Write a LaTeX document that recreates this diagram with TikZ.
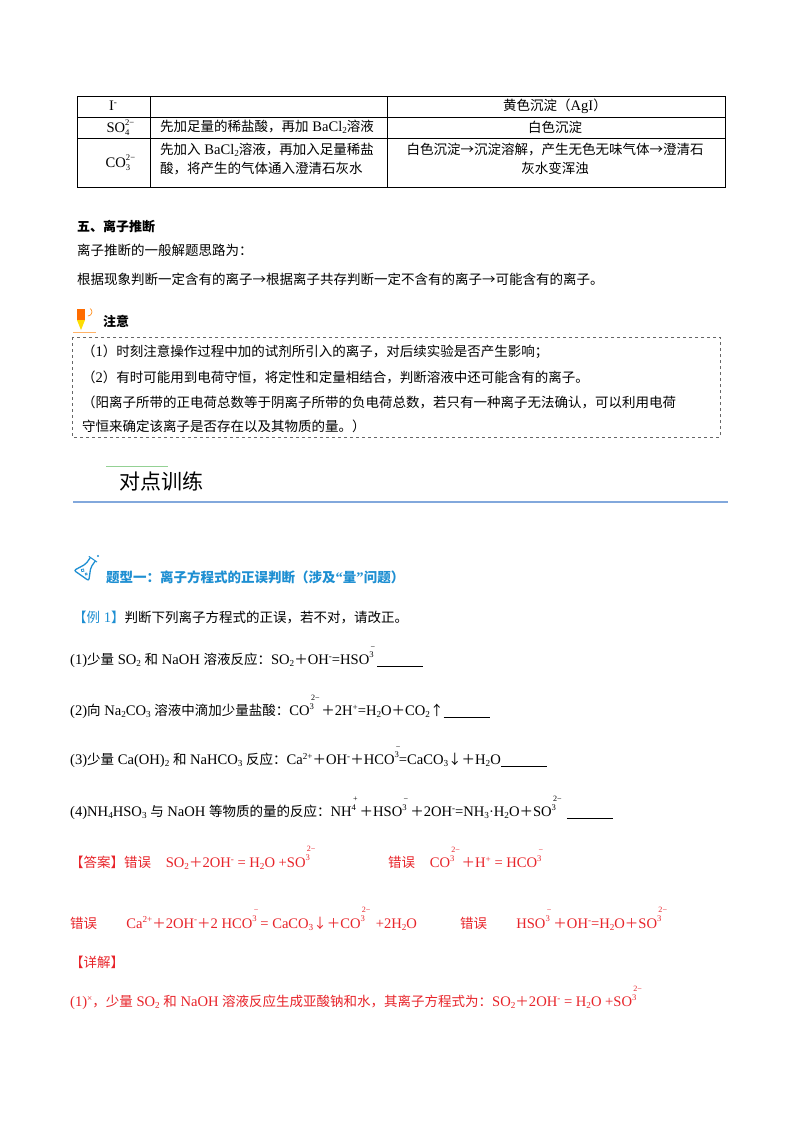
\documentclass[tikz,border=0pt]{standalone}
\usepackage{fontspec}
\setmainfont{Liberation Serif}[Scale=1.08]
\newfontfamily\cjk{Noto Sans CJK SC}
\XeTeXinterchartokenstate=1
\newXeTeXintercharclass\cjkcls
\newcount\cc
\def\setrange#1#2{\cc=#1\relax\loop\XeTeXcharclass\cc=\cjkcls\advance\cc by 1\relax\ifnum\cc<#2\repeat}
\setrange{"4E00}{"9FFF}
\setrange{"3000}{"3040}
\setrange{"FF00}{"FF60}
\setrange{"2190}{"2194}
\XeTeXinterchartoks 0 \cjkcls = {\cjk}
\XeTeXinterchartoks 4095 \cjkcls = {\cjk}
\XeTeXinterchartoks \cjkcls 0 = {\rmfamily}
\XeTeXinterchartoks \cjkcls 4095 = {\rmfamily}
\newcommand{\ionx}[2]{\makebox[0pt][l]{\raisebox{2.3ex}{\fontsize{7.5}{7}\selectfont\,#1}}\raisebox{1.0ex}{\fontsize{8}{8}\selectfont #2}}
\newcommand{\tion}[2]{\makebox[0pt][l]{\raisebox{1.0ex}{\fontsize{8}{8}\selectfont #1}}\raisebox{-0.5ex}{\fontsize{8}{8}\selectfont #2}\hspace{10pt}}
\newcommand{\sbs}[1]{\raisebox{-0.3ex}{\fontsize{8.5}{8}\selectfont #1}}
\newcommand{\sps}[1]{\raisebox{0.8ex}{\fontsize{8.5}{8}\selectfont #1}}
\newcommand{\blank}{\rule[-2pt]{46pt}{0.6pt}}
\definecolor{ansred}{HTML}{E8242A}
\definecolor{tblue}{HTML}{1E8FD2}
\definecolor{lineblue}{HTML}{82A8DC}
\begin{document}
\begin{tikzpicture}[x=1pt,y=-1pt,
  txt/.style={anchor=west,inner sep=0pt,font=\fontsize{13.5}{16}\selectfont},
  ctr/.style={inner sep=0pt,font=\fontsize{13.5}{16}\selectfont},
  red/.style={txt,text=ansred}]
\useasboundingbox (0,0) rectangle (800,1132);
\fill[white] (0,0) rectangle (800,1132);
% table
\draw[line width=0.6pt] (77,96) rectangle (725,187);
\draw[line width=0.6pt] (77,117) -- (725,117) (77,138) -- (725,138) (150,96) -- (150,187) (387,96) -- (387,187);
\node[ctr] (r1a) at (113,106) {I\sps{-}};
\node[ctr] (r1c) at (555,106) {黄色沉淀（AgI）};
\node[ctr] (r2a) at (118,128) {SO\tion{2−}{4}};
\node[txt] (r2b) at (160,127) {先加足量的稀盐酸，再加 BaCl\sbs{2}溶液};
\node[ctr] (r2c) at (555,127) {白色沉淀};
\node[ctr] (r3a) at (118,163) {CO\tion{2−}{3}};
\node[txt,align=left] (r3b) at (160,159) {先加入 BaCl\sbs{2}溶液，再加入足量稀盐\\[3pt]酸，将产生的气体通入澄清石灰水};
\node[ctr,align=center] (r3c) at (555,159) {白色沉淀→沉淀溶解，产生无色无味气体→澄清石\\[3pt]灰水变浑浊};
% section 5
\node[txt,font=\fontsize{13}{16}\selectfont\bfseries] (s5) at (77,227) {五、离子推断};
\node[txt] (s5a) at (77,250) {离子推断的一般解题思路为：};
\node[txt] (s5b) at (77,279) {根据现象判断一定含有的离子→根据离子共存判断一定不含有的离子→可能含有的离子。};
% pencil icon
\fill[orange!85!red] (77,309) rectangle (85,320);
\fill[yellow!80!orange] (77,320) -- (85,320) -- (81,330) -- cycle;
\draw[orange,line width=0.6pt] (88,316) arc (90:-60:4);
\draw[orange!60, line width=0.5pt] (73,332) -- (96,332);
\node[txt,font=\fontsize{13}{16}\selectfont\bfseries] (zy) at (103,321) {注意};
\draw[dashed,line width=0.6pt,gray!80!black] (72,337) rectangle (720,437);
\node[txt] (n1) at (82,352) {（1）时刻注意操作过程中加的试剂所引入的离子，对后续实验是否产生影响；};
\node[txt] (n2) at (82,377) {（2）有时可能用到电荷守恒，将定性和定量相结合，判断溶液中还可能含有的离子。};
\node[txt] (n3) at (82,402) {（阳离子所带的正电荷总数等于阴离子所带的负电荷总数，若只有一种离子无法确认，可以利用电荷};
\node[txt] (n4) at (82,426) {守恒来确定该离子是否存在以及其物质的量。）};
% heading
\draw[gray!60!green!60,line width=0.8pt] (106,466) -- (168,466);
\node[txt,font=\fontsize{21}{24}\selectfont] (dd) at (119,481) {对点训练};
\draw[lineblue,line width=1.5pt] (73,502) -- (728,502);
% flask icon
\begin{scope}[shift={(86,569)},rotate=-35]
\draw[tblue,line width=1.3pt,rounded corners=2pt] (-3,-12) -- (-3,-4) -- (-9,8) -- (9,8) -- (3,-4) -- (3,-12);
\draw[tblue,line width=1pt] (-5,-12) -- (5,-12);
\draw[tblue,line width=0.7pt] (-2,3) circle (1.6) (3,4) circle (1.2);
\end{scope}
\fill[tblue] (98,556) circle (1.2);
\node[txt,font=\fontsize{13.5}{16}\selectfont\bfseries,text=tblue] (tx) at (106,577) {题型一：离子方程式的正误判断（涉及“量”问题）};
\node[txt] (ex) at (73,617) {\textcolor{tblue}{【例 1】}判断下列离子方程式的正误，若不对，请改正。};
\node[txt] (q1) at (70,657) {(1)少量 SO\sbs{2} 和 NaOH 溶液反应：SO\sbs{2}＋OH\sps{-}=HSO\ionx{−}{3}\ \blank};
\node[txt] (q2) at (70,707) {(2)向 Na\sbs{2}CO\sbs{3} 溶液中滴加少量盐酸：CO\ionx{2−}{3}\ \ ＋2H\sps{+}=H\sbs{2}O＋CO\sbs{2}↑\blank};
\node[txt] (q3) at (70,757) {(3)少量 Ca(OH)\sbs{2} 和 NaHCO\sbs{3} 反应：Ca\sps{2+}＋OH\sps{-}＋HCO\ionx{−}{3}=CaCO\sbs{3}↓＋H\sbs{2}O\blank};
\node[txt] (q4) at (70,808) {(4)NH\sbs{4}HSO\sbs{3} 与 NaOH 等物质的量的反应：NH\ionx{+}{4}\ ＋HSO\ionx{−}{3}\ ＋2OH\sps{-}=NH\sbs{3}·H\sbs{2}O＋SO\ionx{2−}{3}\ \ \ \blank};
% answers
\node[red] (a1) at (70,858) {【答案】错误\quad SO\sbs{2}＋2OH\sps{-} = H\sbs{2}O +SO\ionx{2−}{3}};
\node[red] (a2) at (388,858) {错误\quad CO\ionx{2−}{3}\ \ ＋H\sps{+} = HCO\ionx{−}{3}};
\node[red] (a3) at (70,919) {错误\qquad Ca\sps{2+}＋2OH\sps{-}＋2 HCO\ionx{−}{3}\ = CaCO\sbs{3}↓＋CO\ionx{2−}{3}\ \ \ +2H\sbs{2}O};
\node[red] (a4) at (460,919) {错误\qquad HSO\ionx{−}{3}\ ＋OH\sps{-}=H\sbs{2}O＋SO\ionx{2−}{3}};
\node[red] (a5) at (70,962) {【详解】};
\node[red] (a6) at (70,998) {(1)\sps{×}，少量 SO\sbs{2} 和 NaOH 溶液反应生成亚酸钠和水，其离子方程式为：SO\sbs{2}＋2OH\sps{-} = H\sbs{2}O +SO\ionx{2−}{3}};
\end{tikzpicture}
\end{document}
